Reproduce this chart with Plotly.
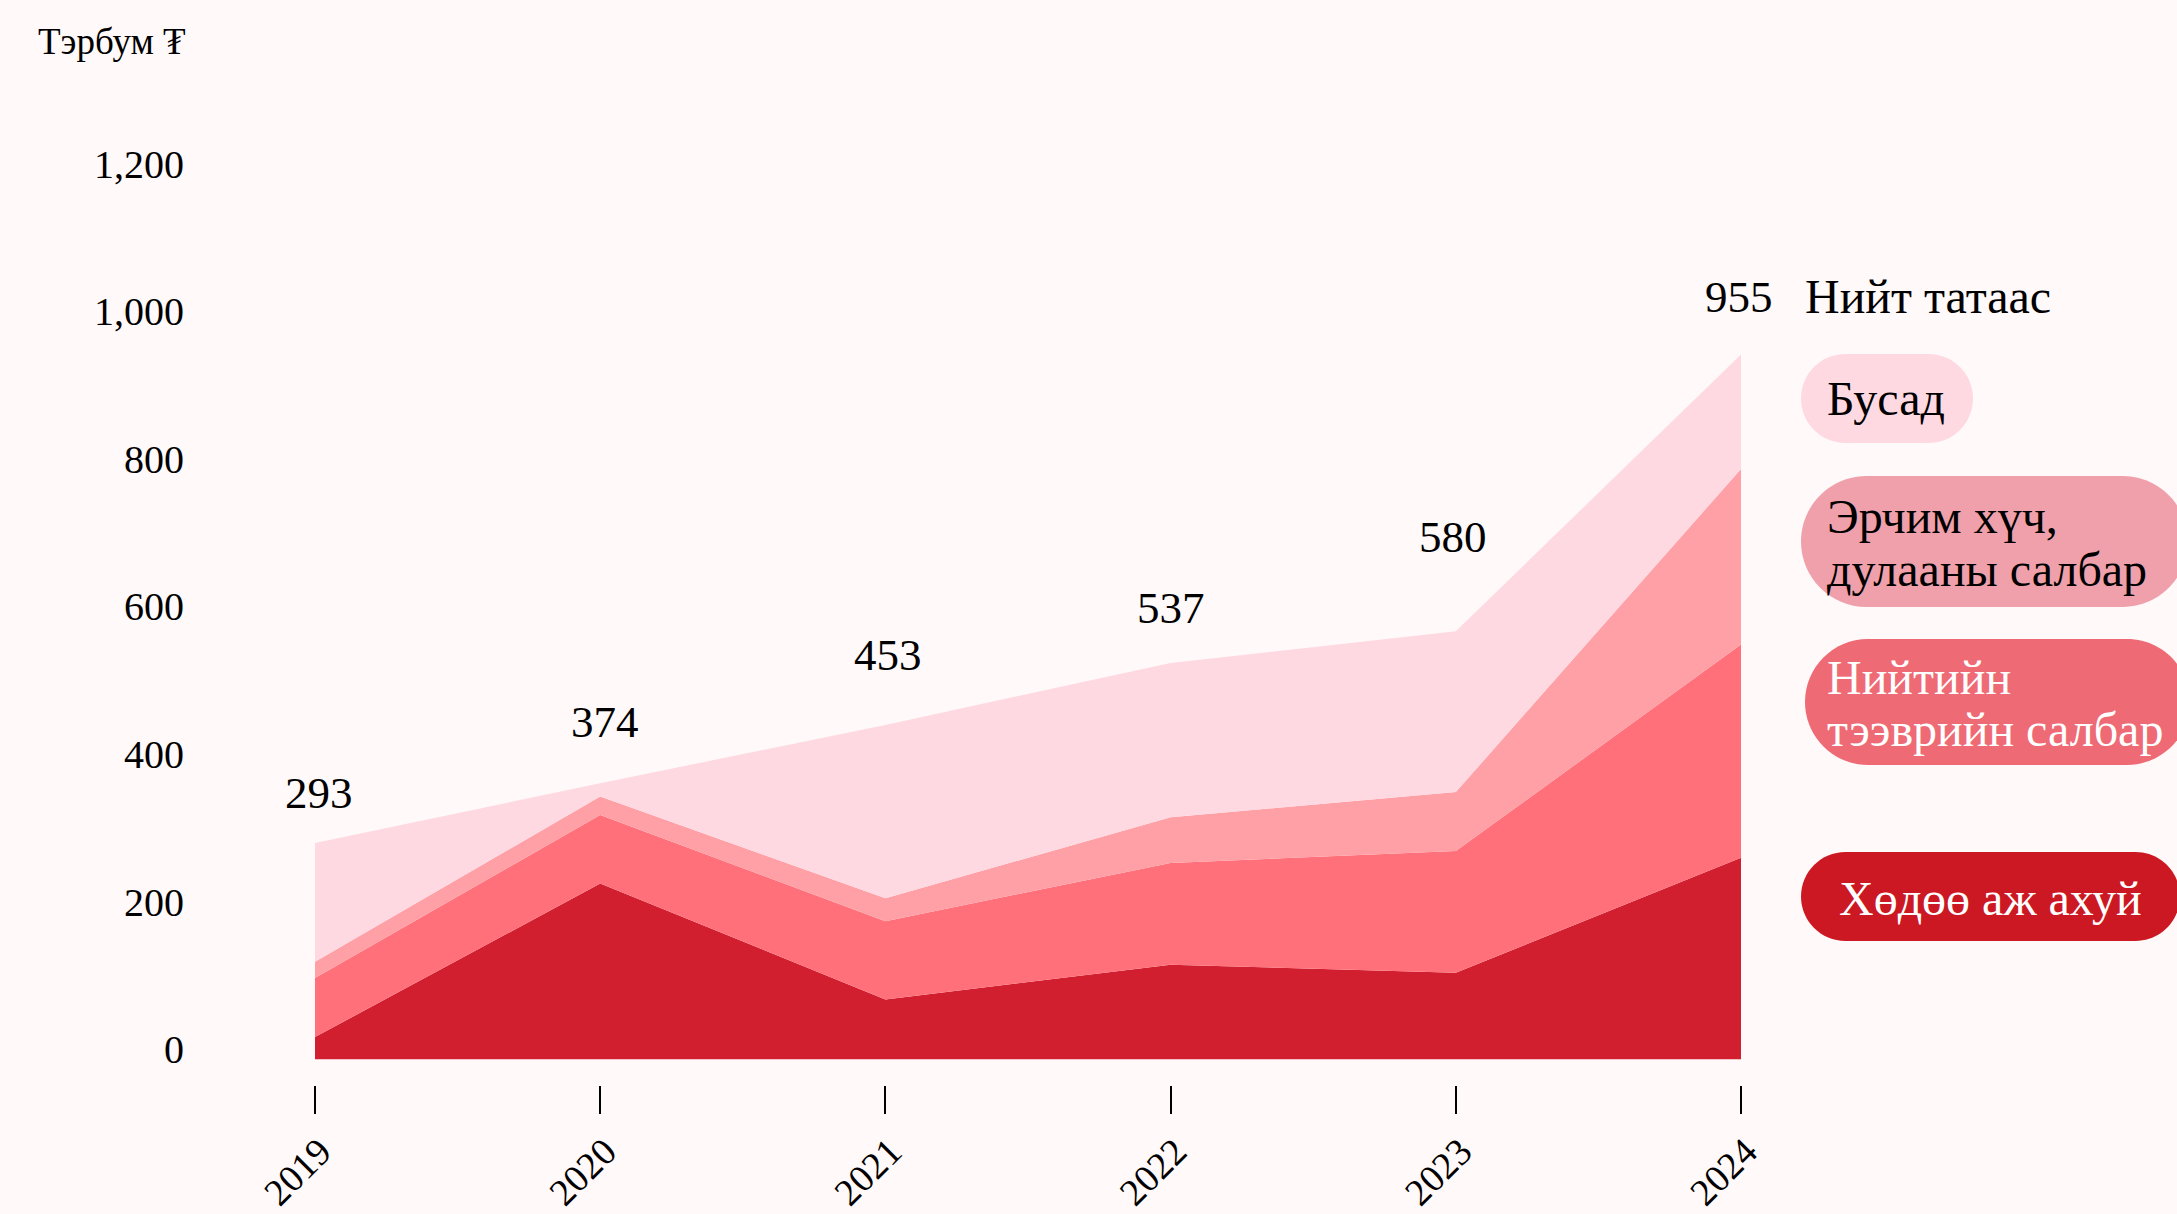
import plotly.graph_objects as go

# ---------------- data ----------------
years = [2019, 2020, 2021, 2022, 2023, 2024]
year_labels = ["2019", "2020", "2021", "2022", "2023", "2024"]
agriculture = [30, 238, 81, 128, 117, 273]      # Хөдөө аж ахуй
transport = [80, 93, 106, 138, 165, 289]        # Нийтийн тээврийн салбар
energy = [22, 25, 31, 62, 80, 238]              # Эрчим хүч, дулааны салбар
other = [161, 18, 235, 209, 218, 155]           # Бусад
totals = [293, 374, 453, 537, 580, 955]         # Нийт татаас
y_tick_vals = [0, 200, 400, 600, 800, 1000, 1200]
y_tick_text = ["0", "200", "400", "600", "800", "1,000", "1,200"]

# ---------------- style ----------------
W, H = 2177, 1214
ML, MR, MT, MB = 315, 436, 100, 129
BG = "#FFF9F9"
FONT = "Liberation Serif"
C_AGR = "#D21F30"
C_TRN = "#FF707A"
C_ENG = "#FFA0A6"
C_OTH = "#FFD9E2"
label_shift = [50, 61, 70, 55, 94, 58]
label_xshift = [4, 5, 3, 0, -3, -2]
LEG_SIZE = 48

fig = go.Figure()
for name, vals, col in [
    ("Хөдөө аж ахуй", agriculture, C_AGR),
    ("Нийтийн тээврийн салбар", transport, C_TRN),
    ("Эрчим хүч, дулааны салбар", energy, C_ENG),
    ("Бусад", other, C_OTH),
]:
    fig.add_trace(go.Scatter(
        x=years, y=vals, name=name, stackgroup="one", mode="lines",
        line=dict(width=0, color=col), fillcolor=col, showlegend=False,
        hoverinfo="skip",
    ))

annotations = []
for yr, tot, sh, xs in zip(years, totals, label_shift, label_xshift):
    annotations.append(dict(
        x=yr, y=tot, text=str(tot), showarrow=False, yshift=sh, xshift=xs,
        font=dict(family=FONT, size=45, color="black"),
        xanchor="center", yanchor="middle",
    ))
annotations.append(dict(
    x=years[-1], y=totals[-1], text="Нийт татаас", showarrow=False,
    xshift=62, yshift=58, xanchor="left", yanchor="middle",
    font=dict(family=FONT, size=LEG_SIZE, color="black"),
))

PW = W - ML - MR
PH = H - MT - MB


def px2paper(x, y):
    return (x - ML) / PW, (H - MB - y) / PH


annotations.append(dict(
    xref="paper", yref="paper", x=px2paper(36, 0)[0], y=px2paper(0, 42)[1],
    text="Тэрбум ₮", showarrow=False, xanchor="left", yanchor="middle",
    font=dict(family=FONT, size=37, color="black"),
))

shapes = []


def pill(x0, y0, x1, y1, color):
    r = (y1 - y0) / 2.0
    k = 0.5523 * r

    def P(x, y):
        px, py = px2paper(x, y)
        return f"{px:.6f},{py:.6f}"
    cy = (y0 + y1) / 2.0
    path = (
        f"M {P(x0 + r, y0)} L {P(x1 - r, y0)} "
        f"C {P(x1 - r + k, y0)} {P(x1, cy - k)} {P(x1, cy)} "
        f"C {P(x1, cy + k)} {P(x1 - r + k, y1)} {P(x1 - r, y1)} "
        f"L {P(x0 + r, y1)} "
        f"C {P(x0 + r - k, y1)} {P(x0, cy + k)} {P(x0, cy)} "
        f"C {P(x0, cy - k)} {P(x0 + r - k, y0)} {P(x0 + r, y0)} Z"
    )
    shapes.append(dict(type="path", xref="paper", yref="paper", path=path,
                       fillcolor=color, line=dict(width=0), layer="below"))


def label(x, y, text, color, anchor="left"):
    px, py = px2paper(x, y)
    annotations.append(dict(
        xref="paper", yref="paper", x=px, y=py, text=text, showarrow=False,
        xanchor=anchor, yanchor="middle",
        font=dict(family=FONT, size=LEG_SIZE, color=color),
    ))


pill(1801, 354, 1973, 443, C_OTH)
label(1825, 398, "Бусад", "black")
pill(1801, 476, 2188, 607, "#EFA0AA")
label(1825, 516, "Эрчим хүч,", "black")
label(1825, 569, "дулааны салбар", "black")
pill(1805, 639, 2190, 765, "#EE6A74")
label(1825, 677, "Нийтийн", "white")
label(1825, 730, "тээврийн салбар", "white")
pill(1801, 852, 2180, 941, "#CC1822")
label(1990, 898, "Хөдөө аж ахуй", "white", anchor="center")

fig.update_layout(
    width=W, height=H,
    margin=dict(l=ML, r=MR, t=MT, b=MB, pad=0, autoexpand=False),
    paper_bgcolor=BG, plot_bgcolor=BG,
    showlegend=False,
    annotations=annotations,
    shapes=shapes,
    font=dict(family=FONT, color="black"),
    xaxis=dict(
        range=[years[0], years[-1]], tickvals=years, ticktext=year_labels,
        tickangle=-45, ticks="outside", ticklen=28, tickwidth=1.5,
        tickcolor="black", showgrid=False, zeroline=False, showline=False,
        tickfont=dict(family=FONT, size=38, color="black"),
        ticklabelshift=5,
        fixedrange=True, automargin=False,
    ),
    yaxis=dict(
        range=[-35, 1300], tickvals=y_tick_vals, ticktext=y_tick_text,
        showgrid=False, zeroline=False, showline=False, ticks="",
        ticklabelstandoff=130, ticklabelshift=-10,
        tickfont=dict(family=FONT, size=40, color="black"),
        fixedrange=True, automargin=False,
    ),
)

post = (
    "document.body.style.margin='0';"
    "document.body.style.padding='0';"
    "document.body.style.overflow='hidden';"
    "document.body.style.background='" + BG + "';"
    "document.documentElement.style.background='" + BG + "';"
)
fig.write_html("out.html", post_script=post, config={"displayModeBar": False})
